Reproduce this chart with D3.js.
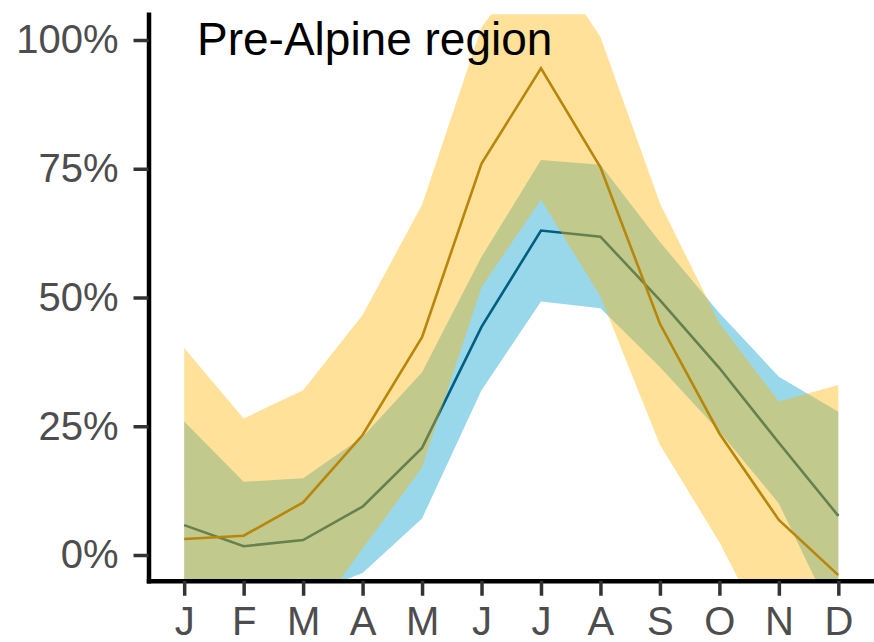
<!DOCTYPE html>
<html>
<head>
<meta charset="utf-8">
<script src="https://cdn.jsdelivr.net/npm/d3@7"></script>
<style>
  body { margin: 0; background: #fff; }
  svg text { font-family: "Liberation Sans", Arial, sans-serif; }
</style>
</head>
<body>
<div id="chart"></div>
<script>
// month labels on the x axis
const months = ["J", "F", "M", "A", "M", "J", "J", "A", "S", "O", "N", "D"];
const yTicks = [0, 0.25, 0.5, 0.75, 1];

// blue series (mean + ribbon)
const blueMean  = [0.058, 0.017, 0.029, 0.094, 0.208, 0.443, 0.630, 0.618, 0.495, 0.363, 0.218, 0.076];
const blueLow   = [-0.25, -0.25, -0.08, -0.035, 0.071, 0.32, 0.492, 0.479, 0.365, 0.24, 0.10, -0.14];
const blueHigh  = [0.259, 0.142, 0.149, 0.229, 0.355, 0.579, 0.767, 0.758, 0.608, 0.47, 0.346, 0.278];

// orange series (mean + ribbon)
const orangeMean = [0.031, 0.0375, 0.102, 0.233, 0.423, 0.76, 0.945, 0.753, 0.449, 0.236, 0.068, -0.039];
const orangeLow  = [-0.25, -0.25, -0.147, 0.012, 0.17, 0.52, 0.69, 0.502, 0.214, 0.025, -0.20, -0.30];
const orangeHigh = [0.402, 0.265, 0.32, 0.466, 0.68, 1.025, 1.18, 1.006, 0.683, 0.45, 0.298, 0.33];

const W = 874, H = 642;
const panel = { left: 148.5, right: 874, top: 14.25, bottom: 580.75 };

const svg = d3.select("#chart")
    .append("svg")
    .attr("width", W)
    .attr("height", H);

const idx = d3.range(months.length);

const xScale = d3.scalePoint()
    .domain(idx)
    .range([panel.left, panel.right])
    .padding(0.6);

const yScale = d3.scaleLinear()
    .domain([-0.05, 1.05])
    .range([panel.bottom, panel.top]);

svg.append("defs")
    .append("clipPath")
    .attr("id", "panel-clip")
    .append("rect")
    .attr("x", panel.left)
    .attr("y", panel.top)
    .attr("width", panel.right - panel.left)
    .attr("height", panel.bottom - panel.top);

const plot = svg.append("g").attr("clip-path", "url(#panel-clip)");

function ribbon(low, high) {
    return d3.area()
        .x(i => xScale(i))
        .y0(i => yScale(low[i]))
        .y1(i => yScale(high[i]))(idx);
}

function meanLine(vals) {
    return d3.line()
        .x(i => xScale(i))
        .y(i => yScale(vals[i]))(idx);
}

// blue first, orange on top
plot.append("path")
    .attr("d", ribbon(blueLow, blueHigh))
    .attr("fill", "#009ECC")
    .attr("fill-opacity", 0.4);

plot.append("path")
    .attr("d", meanLine(blueMean))
    .attr("fill", "none")
    .attr("stroke", "#005F80")
    .attr("stroke-width", 2.6);

plot.append("path")
    .attr("d", ribbon(orangeLow, orangeHigh))
    .attr("fill", "#FFB400")
    .attr("fill-opacity", 0.4);

plot.append("path")
    .attr("d", meanLine(orangeMean))
    .attr("fill", "none")
    .attr("stroke", "#B8860B")
    .attr("stroke-width", 2.6);

// axes
const xAxis = d3.axisBottom(xScale)
    .tickFormat(i => months[i])
    .tickSize(15)
    .tickSizeOuter(0)
    .tickPadding(11);

const yAxis = d3.axisLeft(yScale)
    .tickValues(yTicks)
    .tickFormat(d3.format(".0%"))
    .tickSize(15)
    .tickSizeOuter(0)
    .tickPadding(15);

const xAxisDraw = svg.append("g")
    .attr("transform", `translate(0, ${panel.bottom})`)
    .call(xAxis);

const yAxisDraw = svg.append("g")
    .attr("transform", `translate(${panel.left}, 0)`)
    .call(yAxis);

[xAxisDraw, yAxisDraw].forEach(ax => {
    ax.select(".domain")
        .attr("stroke", "#000")
        .attr("stroke-width", 4.5)
        .attr("stroke-linecap", "square");
    ax.selectAll(".tick line")
        .attr("stroke", "#333")
        .attr("stroke-width", 3.5);
    ax.selectAll(".tick text")
        .attr("fill", "#4D4D4D")
        .style("font-size", "40px");
});

// panel title
svg.append("text")
    .attr("x", 197)
    .attr("y", 55)
    .attr("fill", "#000")
    .style("font-size", "46px")
    .text("Pre-Alpine region");
</script>
</body>
</html>
